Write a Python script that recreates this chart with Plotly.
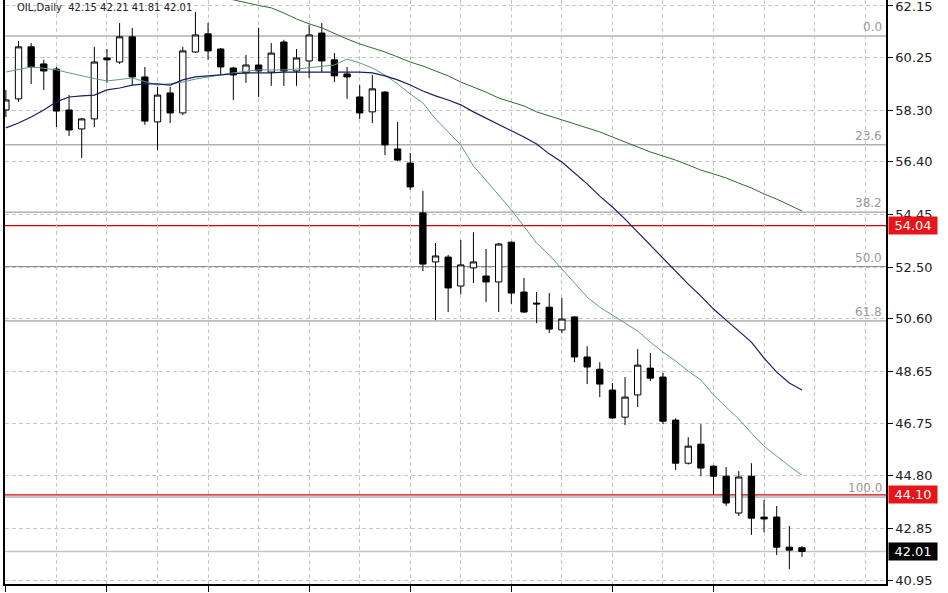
import plotly.graph_objects as go

# daily candles (oldest first)
opens = [58.31, 58.72, 60.64, 60.01, 59.82, 58.31, 57.61, 57.98, 60.23, 60.08,
         61.01, 59.53, 57.87, 58.94, 58.20, 60.45, 61.12, 60.56, 59.86, 59.68,
         59.97, 59.71, 60.82, 59.75, 60.12, 61.15, 60.16, 59.64, 58.79, 58.24,
         58.97, 56.87, 56.35, 54.51, 52.70, 52.88, 51.81, 52.48, 52.18, 51.96,
         53.43, 51.59, 51.18, 51.03, 50.19, 50.67, 49.19, 48.74, 47.97, 46.97,
         47.79, 48.78, 48.45, 46.86, 45.27, 45.97, 45.16, 44.79, 43.43, 44.79,
         43.28, 43.28, 42.17, 42.15]
highs = [59.05, 60.86, 60.78, 60.16, 59.90, 58.86, 58.01, 60.64, 60.56, 61.52,
         61.34, 59.90, 59.16, 59.16, 60.64, 61.93, 61.52, 60.60, 59.90, 60.34,
         61.34, 60.78, 60.90, 60.56, 61.45, 61.52, 60.41, 59.90, 59.23, 59.60,
         59.01, 57.87, 56.72, 55.32, 53.40, 52.96, 53.51, 53.80, 53.18, 53.40,
         53.45, 52.11, 51.59, 51.55, 51.37, 50.70, 49.59, 49.00, 48.23, 48.45,
         49.48, 49.34, 48.60, 46.93, 46.23, 46.71, 45.20, 45.13, 44.98, 45.27,
         43.91, 43.69, 42.95, 42.21]
lows = [58.05, 58.61, 59.27, 59.05, 57.68, 57.35, 56.54, 57.68, 59.31, 60.01,
        59.23, 57.76, 56.83, 57.83, 58.12, 60.41, 60.16, 59.64, 58.68, 59.31,
        58.79, 59.20, 59.20, 59.20, 59.49, 59.71, 59.34, 58.72, 57.98, 57.83,
        56.65, 56.43, 55.36, 52.36, 50.55, 50.85, 51.51, 51.92, 51.22, 50.85,
        51.15, 50.81, 50.44, 50.07, 50.07, 49.00, 48.19, 47.71, 46.90, 46.68,
        47.34, 48.30, 46.71, 45.02, 45.22, 44.79, 44.13, 43.69, 43.32, 42.62,
        42.72, 41.88, 41.36, 41.81]
closes = [58.68, 60.64, 59.90, 59.75, 58.27, 57.57, 57.98, 60.08, 60.16, 61.01,
          59.53, 57.90, 58.86, 58.20, 60.49, 61.08, 60.49, 59.90, 59.60, 59.97,
          59.75, 60.41, 59.75, 60.23, 61.08, 60.12, 59.57, 59.53, 58.20, 59.09,
          57.02, 56.46, 55.47, 52.62, 52.92, 51.74, 52.59, 52.70, 51.96, 53.36,
          51.55, 50.85, 51.15, 50.22, 50.59, 49.19, 48.82, 48.19, 46.94, 47.71,
          48.89, 48.41, 46.82, 45.27, 45.90, 45.09, 44.79, 43.80, 44.76, 43.24,
          43.21, 42.17, 42.06, 42.01]
bars = list(range(len(closes)))

# moving averages
ma_fast = [59.71, 59.80, 59.90, 59.85, 59.79, 59.68, 59.57, 59.47, 59.38, 59.44,
           59.49, 59.36, 59.23, 59.28, 59.34, 59.45, 59.53, 59.60, 59.68, 59.74,
           59.79, 59.79, 59.79, 59.82, 59.86, 59.92, 59.97, 60.19, 60.05, 59.86,
           59.60, 59.27, 58.90, 58.57, 57.98, 57.50, 57.02, 56.24, 55.72, 55.17,
           54.62, 54.03, 53.40, 52.96, 52.44, 51.96, 51.40, 51.03, 50.74, 50.44,
           50.15, 49.74, 49.37, 49.04, 48.67, 48.34, 47.79, 47.34, 46.90, 46.38,
           45.90, 45.53, 45.16, 44.83]
ma_mid = [57.65, 57.83, 58.05, 58.31, 58.61, 58.79, 58.83, 58.86, 59.05, 59.12,
          59.23, 59.27, 59.27, 59.23, 59.42, 59.53, 59.57, 59.60, 59.64, 59.68,
          59.68, 59.68, 59.71, 59.71, 59.71, 59.71, 59.71, 59.71, 59.71, 59.68,
          59.57, 59.42, 59.23, 59.01, 58.83, 58.68, 58.50, 58.24, 58.01, 57.76,
          57.53, 57.31, 57.05, 56.69, 56.39, 55.98, 55.58, 55.13, 54.73, 54.28,
          53.80, 53.32, 52.84, 52.36, 51.88, 51.44, 50.96, 50.55, 50.15, 49.74,
          49.15, 48.63, 48.23, 47.97]
ma_slow_start = 17
ma_slow = [62.48, 62.37, 62.26, 62.17, 62.08, 61.89, 61.67, 61.49, 61.34, 61.12,
           60.93, 60.75, 60.60, 60.45, 60.27, 60.08, 59.93, 59.75, 59.57, 59.34,
           59.16, 58.97, 58.75, 58.61, 58.46, 58.24, 58.09, 57.94, 57.79, 57.64,
           57.50, 57.31, 57.13, 56.94, 56.76, 56.61, 56.46, 56.28, 56.09, 55.95,
           55.80, 55.61, 55.43, 55.21, 55.02, 54.80, 54.58]

# fibonacci retracement and marked levels
fib_high = 61.04
fib_low = 44.02
fib_ratios = [0.0, 23.6, 38.2, 50.0, 61.8, 100.0]
red_levels = [54.04, 44.10]
last_price = 42.01

price_ticks = [62.15, 60.25, 58.30, 56.40, 54.45, 52.50, 50.60,
               48.65, 46.75, 44.80, 42.85, 40.95]

fig = go.Figure()

fig.add_trace(go.Scatter(x=bars, y=ma_fast, mode="lines",
                         line=dict(color="#5e9c86", width=1), hoverinfo="skip"))
fig.add_trace(go.Scatter(x=bars, y=ma_mid, mode="lines",
                         line=dict(color="#1c1c62", width=1.2), hoverinfo="skip"))
fig.add_trace(go.Scatter(x=bars[ma_slow_start:], y=ma_slow, mode="lines",
                         line=dict(color="#2f6a2f", width=1), hoverinfo="skip"))

fig.add_trace(go.Candlestick(
    x=bars, open=opens, high=highs, low=lows, close=closes,
    increasing=dict(line=dict(color="black", width=1), fillcolor="white"),
    decreasing=dict(line=dict(color="black", width=1), fillcolor="black"),
    whiskerwidth=0, hoverinfo="skip",
))

# horizontal levels
for r in fib_ratios:
    lvl = fib_high - (fib_high - fib_low) * r / 100
    fig.add_hline(y=lvl, line=dict(color="#8a8a8a", width=1), layer="below")
    fig.add_annotation(x=1, xref="paper", y=lvl, yref="y", text=f"{r:.1f}",
                       showarrow=False, xanchor="right", yanchor="bottom",
                       xshift=-2, font=dict(family="DejaVu Sans", size=12, color="#9a9a9a"))

fig.add_hline(y=last_price, line=dict(color="#c4c4c4", width=1.5), layer="below")
for lvl in red_levels:
    fig.add_hline(y=lvl, line=dict(color="#d40000", width=1.2), layer="below")
    fig.add_annotation(x=1, xref="paper", y=lvl, yref="y", text=f"{lvl:.2f}",
                       showarrow=False, xanchor="left", yanchor="middle", xshift=2,
                       bgcolor="#e8141a", width=46, height=15, borderpad=1,
                       font=dict(family="DejaVu Sans", size=13, color="white"))
fig.add_annotation(x=1, xref="paper", y=last_price, yref="y", text=f"{last_price:.2f}",
                   showarrow=False, xanchor="left", yanchor="middle", xshift=2,
                   bgcolor="black", width=46, height=15, borderpad=1,
                   font=dict(family="DejaVu Sans", size=13, color="white"))

# header line at the very top
fig.add_annotation(x=0, xref="paper", y=1, yref="paper", text="OIL,Daily  42.15 42.21 41.81 42.01",
                   showarrow=False, xanchor="left", yanchor="top", xshift=10, yshift=0,
                   font=dict(family="DejaVu Sans", size=10, color="#222222"))

fig.update_layout(
    width=948, height=593,
    margin=dict(l=5, r=62, t=0, b=9),
    paper_bgcolor="white", plot_bgcolor="white",
    showlegend=False, boxgap=0.5, boxgroupgap=0, hovermode=False,
)
fig.update_xaxes(
    range=[-0.07, 69.65], rangeslider_visible=False,
    tickvals=list(range(4, 69, 4)), showticklabels=False, ticks="",
    showgrid=True, gridcolor="#c6c6c6", griddash="4px,3px", gridwidth=1,
    minor=dict(tickvals=list(range(0, 57, 8)), ticks="outside", ticklen=6,
               tickcolor="black", showgrid=False),
    showline=True, linecolor="black", linewidth=1.5, zeroline=False,
)
fig.update_yaxes(
    range=[40.81, 62.37], side="right",
    tickvals=price_ticks, ticktext=[f"{v:.2f}" for v in price_ticks],
    ticks="outside", ticklen=5, tickcolor="black", ticklabeloverflow="allow",
    tickfont=dict(family="DejaVu Sans", size=13, color="#222222"),
    showgrid=True, gridcolor="#c6c6c6", griddash="4px,3px", gridwidth=1,
    showline=True, linecolor="black", linewidth=1.5, mirror=True, zeroline=False,
)

# the page's default body margin would shift the chart by 8px
fig.write_html("out.html", config={"displayModeBar": False},
               post_script="document.body.style.margin='0';")
